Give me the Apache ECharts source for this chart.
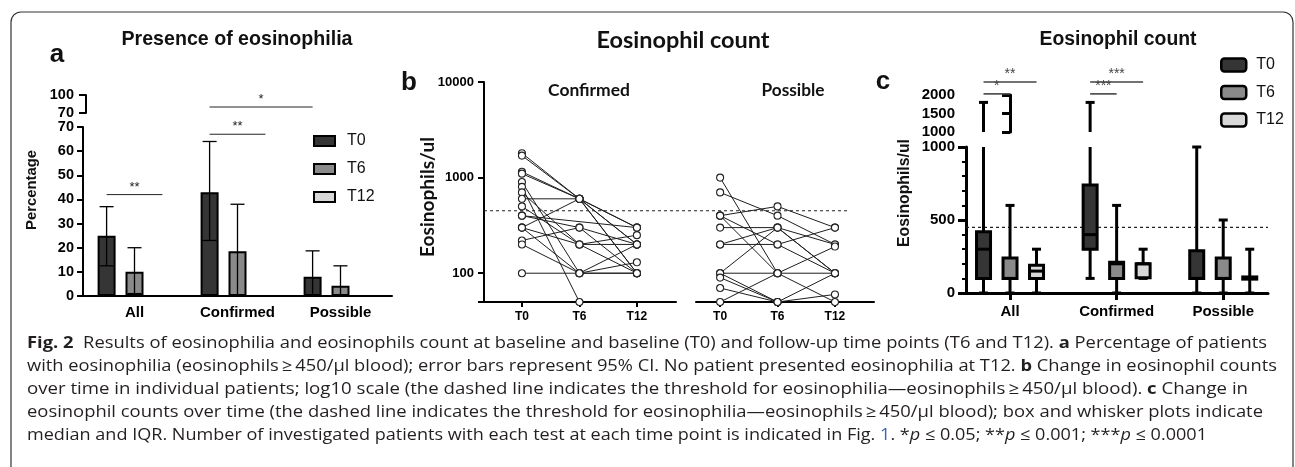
<!DOCTYPE html>
<html><head><meta charset="utf-8">
<script src="https://cdn.jsdelivr.net/npm/echarts@6/dist/echarts.min.js"></script>
<style>html,body{margin:0;padding:0;background:#fff}#c{width:1295px;height:467px}</style>
</head><body><div id="c"></div>
<script>
// ---------------- DATA ----------------
const timePoints = ['T0', 'T6', 'T12'];
const groups = ['All', 'Confirmed', 'Possible'];

// Panel a: % of patients with eosinophilia, 95% CI
const pctT0 = [25, 43, 8];
const pctT6 = [10, 18.5, 4.2];
const pctT12 = [0, 0, 0];
const ciLowT0 = [12.5, 23, 0];
const ciHighT0 = [37, 64, 18.7];
const ciLowT6 = [1, 0, 0];
const ciHighT6 = [20, 38, 12.5];
const aTicksUpper = [70, 100];
// significance brackets panel a: [group, time] from/to, level, stars
const sigAFrom = [[0, 0], [1, 0], [1, 0]];
const sigATo = [[0, 2], [1, 2], [2, 0]];
const sigALevel = [42, 67, 80];
const sigAStars = ['**', '**', '*'];

// Panel b: individual patients (eosinophils/ul) at T0, T6, T12 (null = missing)
const confT0 = [1800, 1700, 1150, 1100, 900, 800, 700, 600, 500, 400, 400, 300, 300, 300, 220, 200, 100];
const confT6 = [600, 600, 600, 600, 100, 50, 200, 600, 200, 300, null, 600, 200, 100, 300, 100, 100];
const confT12 = [300, 300, 200, 100, 100, null, 100, 200, 200, 100, 300, 100, 250, 130, 200, 200, 100];
const possT0 = [1000, 700, 400, 400, 400, 300, 200, 200, 100, 100, 100, 90, 70, 50];
const possT6 = [100, 400, 500, 200, 100, 300, 200, 300, 300, 100, 50, 50, 50, 100];
const possT12 = [50, 200, 300, 100, null, 100, 300, 100, 200, 100, 60, 100, null, 190];
const threshold = 450;

// Panel c: box plots [min, Q1, median, Q3, max] per group
const boxT0 = [[0, 100, 300, 420, 1800], [100, 300, 400, 740, 1800], [0, 100, 100, 290, 1000]];
const boxT6 = [[0, 100, 100, 240, 600], [0, 100, 200, 210, 600], [0, 100, 100, 240, 500]];
const boxT12 = [[0, 100, 150, 190, 300], [100, 105, 200, 200, 300], [0, 95, 100, 110, 300]];
// significance brackets panel c
const sigCFrom = [[0, 0], [0, 0], [1, 0], [1, 0]];
const sigCTo = [[0, 2], [0, 1], [1, 2], [1, 1]];
const sigCLevel = [2350, 2030, 2350, 2030];
const sigCStars = ['**', '*', '***', '***'];

// ---------------- CHART ----------------
const chart = echarts.init(document.getElementById('c'), null, {renderer: 'canvas', width: 1295, height: 467});
const AR = '"Liberation Sans", Arial, sans-serif';
const HUM = 'Lato, "Open Sans", sans-serif';
const FILL = ['#353535', '#8a8a8a', '#d8d8d8'];
const BAR_W = 18, BAR_GAP = 0.55;
const barOff = [-(BAR_W + BAR_W * BAR_GAP), 0, (BAR_W + BAR_W * BAR_GAP)];
const boxOff = [-26.5, 0, 26.5];
const plain = v => String(Math.round(v));

function lineEl(x1, y1, x2, y2, w, c) {
  return {type: 'line', shape: {x1, y1, x2, y2}, style: {stroke: c || '#000', lineWidth: w}};
}
const lbl = (size, extra) => Object.assign({color: '#000', fontWeight: 'bold', fontSize: size, fontFamily: AR}, extra || {});

// ----- axes -----
const xAxis = [
  {gridIndex: 0, type: 'category', data: groups,
   axisLine: {lineStyle: {color: '#000', width: 2}},
   axisTick: {alignWithLabel: true, length: 6, lineStyle: {color: '#000', width: 2}},
   axisLabel: lbl(15, {margin: 9})},
  {gridIndex: 1, type: 'category', data: groups, show: false},
  {gridIndex: 2, type: 'value', min: 0, max: 1, show: false},
  {gridIndex: 3, type: 'value', min: -0.66, max: 2.68, splitLine: {show: false},
   axisLine: {onZero: false, lineStyle: {color: '#000', width: 2}},
   axisTick: {customValues: [0, 1, 2], length: 5, lineStyle: {color: '#000', width: 2}},
   axisLabel: lbl(12, {customValues: [0, 1, 2], margin: 9, formatter: v => timePoints[Math.round(v)]})},
  {gridIndex: 4, type: 'value', min: -0.42, max: 2.68, splitLine: {show: false},
   axisLine: {onZero: false, lineStyle: {color: '#000', width: 2}},
   axisTick: {customValues: [0, 1, 2], length: 5, lineStyle: {color: '#000', width: 2}},
   axisLabel: lbl(12, {customValues: [0, 1, 2], margin: 9, formatter: v => timePoints[Math.round(v)]})},
  {gridIndex: 5, type: 'value', min: -0.413, max: 2.42, splitLine: {show: false},
   axisLine: {onZero: false, lineStyle: {color: '#000', width: 3}},
   axisTick: {customValues: [0, 1, 2], length: 7, lineStyle: {color: '#000', width: 3}},
   axisLabel: lbl(15, {customValues: [0, 1, 2], margin: 11, formatter: v => groups[Math.round(v)]})},
  {gridIndex: 6, type: 'value', min: -0.413, max: 2.42, show: false}
];
const yAxis = [
  {gridIndex: 0, type: 'value', min: 0, max: 70, interval: 10, splitLine: {show: false},
   axisLine: {show: true, lineStyle: {color: '#000', width: 2}},
   axisTick: {show: true, length: 6, lineStyle: {color: '#000', width: 2}},
   axisLabel: lbl(14.5, {margin: 9})},
  {gridIndex: 1, type: 'value', min: 70, max: 100, offset: -3, splitLine: {show: false},
   axisLine: {show: true, lineStyle: {color: '#000', width: 2}},
   axisTick: {show: true, customValues: aTicksUpper, length: 7, lineStyle: {color: '#000', width: 2}},
   axisLabel: lbl(14.5, {customValues: aTicksUpper, margin: 12})},
  {gridIndex: 2, type: 'log', logBase: 10, min: 50, max: 10000, show: false},
  {gridIndex: 3, type: 'log', logBase: 10, min: 50, max: 10000, splitLine: {show: false},
   axisLine: {show: true, onZero: false, lineStyle: {color: '#000', width: 2}},
   axisTick: {show: true, length: 6, lineStyle: {color: '#000', width: 2}},
   axisLabel: lbl(13, {margin: 10, formatter: v => v < 99 ? '' : plain(v)})},
  {gridIndex: 4, type: 'log', logBase: 10, min: 50, max: 10000, show: false},
  {gridIndex: 5, type: 'value', min: 0, max: 1000, interval: 500, splitLine: {show: false},
   axisLine: {show: true, onZero: false, lineStyle: {color: '#000', width: 3}},
   axisTick: {show: true, length: 8, lineStyle: {color: '#000', width: 3}},
   minorTick: {show: true, splitNumber: 5, length: 4, lineStyle: {color: '#000', width: 2}},
   axisLabel: lbl(15, {margin: 11, formatter: plain})},
  {gridIndex: 6, type: 'value', min: 1000, max: 2000, interval: 500, offset: 1, splitLine: {show: false},
   axisLine: {show: true, lineStyle: {color: '#000', width: 3}},
   axisTick: {show: true, length: 8, lineStyle: {color: '#000', width: 3}},
   axisLabel: lbl(15, {margin: 10, formatter: plain})}
];
const grid = [
  {left: 83, top: 127, width: 309, height: 169},
  {left: 83, top: 95, width: 309, height: 18},
  {left: 484, top: 82, width: 364, height: 220},
  {left: 484, top: 82, width: 192, height: 220},
  {left: 696, top: 82, width: 178, height: 220},
  {left: 966, top: 147, width: 302, height: 146},
  {left: 966, top: 95, width: 302, height: 37}
];

// ----- series -----
const series = [];
// panel a bars
[pctT0, pctT6, pctT12].forEach((d, t) => {
  series.push({type: 'bar', name: timePoints[t], xAxisIndex: 0, yAxisIndex: 0, data: d,
    barWidth: BAR_W, barGap: (BAR_GAP * 100) + '%',
    itemStyle: {color: FILL[t], borderColor: '#000', borderWidth: 2}, z: 3});
});
// panel a error bars
const errData = [];
for (let g = 0; g < groups.length; g++) {
  errData.push([g, 0, ciLowT0[g], ciHighT0[g]]);
  errData.push([g, 1, ciLowT6[g], ciHighT6[g]]);
}
series.push({type: 'custom', xAxisIndex: 0, yAxisIndex: 0, data: errData, z: 6, silent: true,
  renderItem: (p, api) => {
    const g = api.value(0), t = api.value(1);
    const cx = api.coord([g, 0])[0] + barOff[t];
    const yl = api.coord([g, api.value(2)])[1], yh = api.coord([g, api.value(3)])[1];
    return {type: 'group', children: [
      lineEl(cx, yl, cx, yh, 1.3), lineEl(cx - 7, yh, cx + 7, yh, 1.3), lineEl(cx - 7, yl, cx + 7, yl, 1.3)]};
  }});
// significance brackets
function sigSeries(idxList, fromArr, toArr, levels, stars, xi, yi, offs, col, lw, fs) {
  return {type: 'custom', xAxisIndex: xi, yAxisIndex: yi, silent: true, z: 6, clip: false,
    data: idxList.map(i => [fromArr[i][0], levels[i]]),
    renderItem: (p, api) => {
      const i = idxList[p.dataIndex];
      const x1 = api.coord([fromArr[i][0], levels[i]])[0] + offs[fromArr[i][1]];
      const x2 = api.coord([toArr[i][0], levels[i]])[0] + offs[toArr[i][1]];
      const y = api.coord([fromArr[i][0], levels[i]])[1];
      return {type: 'group', children: [
        lineEl(x1, y, x2, y, lw, col),
        {type: 'text', style: {x: (x1 + x2) / 2, y: y - 1, text: stars[i], align: 'center', verticalAlign: 'bottom',
          fill: col, font: fs + 'px ' + AR}}]};
    }};
}
const aIdx = sigALevel.map((v, i) => i);
series.push(sigSeries(aIdx.filter(i => sigALevel[i] <= 70), sigAFrom, sigATo, sigALevel, sigAStars, 0, 0, barOff, '#222', 1, 13));
series.push(sigSeries(aIdx.filter(i => sigALevel[i] > 70), sigAFrom, sigATo, sigALevel, sigAStars, 1, 1, barOff, '#222', 1, 13));

// panel b threshold line
series.push({type: 'line', xAxisIndex: 2, yAxisIndex: 2, data: [[0, threshold], [1, threshold]], symbol: 'none', silent: true,
  lineStyle: {color: '#222', width: 1, type: [3, 3]}, z: 1});
// panel b patients
function patientSeries(a0, a6, a12, xi, yi) {
  for (let k = 0; k < a0.length; k++) {
    const vals = [a0[k], a6[k], a12[k]];
    series.push({type: 'line', xAxisIndex: xi, yAxisIndex: yi, connectNulls: true, silent: true, clip: false,
      data: vals.map((v, t) => [t, v == null ? '-' : v]),
      symbol: 'circle', symbolSize: 7, showAllSymbol: true,
      lineStyle: {color: '#1e1e1e', width: 1},
      itemStyle: {color: '#fff', borderColor: '#222', borderWidth: 1.1}, z: 2});
  }
}
patientSeries(confT0, confT6, confT12, 3, 3);
patientSeries(possT0, possT6, possT12, 4, 4);

// panel c boxes
function boxRender(t, upper) {
  return (p, api) => {
    const g = api.value(0), mn = api.value(1), q1 = api.value(2), md = api.value(3), q3 = api.value(4), mx = api.value(5);
    const cx = api.coord([g, 0])[0] + boxOff[t];
    const y = v => api.coord([g, v])[1];
    const ch = [];
    const capW = 4.5, bw = 14;
    if (!upper) {
      const top = Math.min(mx, 1000);
      ch.push(lineEl(cx, y(q3), cx, y(top), 3));
      if (mx <= 1000) ch.push(lineEl(cx - capW, y(mx), cx + capW, y(mx), 3));
      ch.push(lineEl(cx, y(q1), cx, y(mn), 3));
      ch.push(lineEl(cx - capW, y(mn), cx + capW, y(mn), 3));
      ch.push({type: 'rect', shape: {x: cx - bw / 2, y: y(q3), width: bw, height: y(q1) - y(q3)},
        style: {fill: FILL[t], stroke: '#000', lineWidth: 3}});
      ch.push(lineEl(cx - bw / 2, y(md), cx + bw / 2, y(md), 3));
    } else if (mx > 1000) {
      ch.push(lineEl(cx, y(1000), cx, y(mx), 3));
      ch.push(lineEl(cx - capW, y(mx), cx + capW, y(mx), 3));
    }
    return {type: 'group', children: ch};
  };
}
[boxT0, boxT6, boxT12].forEach((d, t) => {
  const data = d.map((r, g) => [g].concat(r));
  series.push({type: 'custom', name: timePoints[t], xAxisIndex: 5, yAxisIndex: 5, data, renderItem: boxRender(t, false),
    encode: {x: 0, y: [1, 2, 3, 4, 5]}, itemStyle: {color: FILL[t]}, z: 4, silent: true});
  series.push({type: 'custom', name: timePoints[t], xAxisIndex: 6, yAxisIndex: 6, data, renderItem: boxRender(t, true),
    encode: {x: 0, y: [1, 2, 3, 4, 5]}, itemStyle: {color: FILL[t]}, z: 4, silent: true});
});
// panel c threshold
series.push({type: 'line', xAxisIndex: 5, yAxisIndex: 5, data: [[-0.413, threshold], [2.42, threshold]], symbol: 'none', silent: true,
  lineStyle: {color: '#222', width: 1.3, type: [3, 3]}, z: 3});
// panel c significance (upper grid coordinates)
series.push(sigSeries(sigCLevel.map((v, i) => i), sigCFrom, sigCTo, sigCLevel, sigCStars, 6, 6, boxOff, '#444', 1.6, 14));

// ----- legends -----
const legendData = (bw) => timePoints.map((n, t) => ({name: n, itemStyle: {color: FILL[t], borderColor: '#000', borderWidth: bw}}));
const legend = [
  {orient: 'vertical', left: 313, top: 133, padding: 0, itemWidth: 21, itemHeight: 10, itemGap: 12, icon: 'rect',
   selectedMode: false, data: legendData(2),
   textStyle: {fontSize: 16, fontFamily: '"Liberation Sans Narrow", ' + AR, color: '#111', padding: [0, 0, 0, 7]}},
  {orient: 'vertical', left: 1220, top: 57, padding: 0, itemWidth: 25, itemHeight: 13, itemGap: 11.5, icon: 'roundRect',
   selectedMode: false, data: legendData(2.5),
   textStyle: {fontSize: 16, fontFamily: '"Liberation Sans Narrow", ' + AR, color: '#111', padding: [0, 0, 0, 5]}}
];

// ----- texts (font size fitted to the original text width) -----
const mctx = document.createElement('canvas').getContext('2d');
function fitTxt(x, y, text, weight, family, width, rot) {
  mctx.font = weight + ' 100px ' + family;
  const size = 100 * width / mctx.measureText(text).width;
  return {type: 'text', x, y, z: 50, silent: true, rotation: rot || 0,
    style: {x: 0, y: 0, text, font: weight + ' ' + size.toFixed(2) + 'px ' + family, fill: '#111', align: 'center', verticalAlign: 'middle'}};
}
const graphic = [
  {type: 'rect', z: 0, silent: true, shape: {x: 11, y: 12, width: 1282, height: 520, r: 10},
   style: {fill: 'none', stroke: '#333', lineWidth: 1.2}},
  fitTxt(237, 40, 'Presence of eosinophilia', 'bold', AR, 231),
  {type: 'text', x: 57, y: 55, z: 50, silent: true, style: {x: 0, y: 0, text: 'a', font: 'bold 26px ' + AR, fill: '#111', align: 'center', verticalAlign: 'middle'}},
  fitTxt(32, 190, 'Percentage', 'bold', AR, 80, Math.PI / 2),
  fitTxt(683, 40, 'Eosinophil count', 'bold', HUM, 173),
  {type: 'text', x: 409, y: 83, z: 50, silent: true, style: {x: 0, y: 0, text: 'b', font: 'bold 26px ' + AR, fill: '#111', align: 'center', verticalAlign: 'middle'}},
  fitTxt(589, 90, 'Confirmed', 'bold', HUM, 82),
  fitTxt(793, 90, 'Possible', 'bold', HUM, 63),
  fitTxt(428, 197, 'Eosinophils/ul', 'bold', HUM, 120, Math.PI / 2),
  fitTxt(1118, 40, 'Eosinophil count', 'bold', AR, 157),
  {type: 'text', x: 883, y: 82, z: 50, silent: true, style: {x: 0, y: 0, text: 'c', font: 'bold 26px ' + AR, fill: '#111', align: 'center', verticalAlign: 'middle'}},
  fitTxt(905, 193, 'Eosinophils/ul', 'bold', AR, 108, Math.PI / 2)
];

// caption (stretched per line to the original line widths)
const CAP_FONT = '"Open Sans", "Noto Sans", sans-serif';
const CAP_SIZE = 16.5;
const GE = 'eosinophils\u2009\u2265\u2009450/\u03bcl blood';
const capLines = [
  [['Fig. 2', 'b'], ['  Results of eosinophilia and eosinophils count at baseline and baseline (T0) and follow-up time points (T6 and T12). '], ['a', 'b'], [' Percentage of patients']],
  [['with eosinophilia (' + GE + '); error bars represent 95% CI. No patient presented eosinophilia at T12. '], ['b', 'b'], [' Change in eosinophil counts']],
  [['over time in individual patients; log10 scale (the dashed line indicates the threshold for eosinophilia\u2014' + GE + '). '], ['c', 'b'], [' Change in']],
  [['eosinophil counts over time (the dashed line indicates the threshold for eosinophilia\u2014' + GE + '); box and whisker plots indicate']],
  [['median and IQR. Number of investigated patients with each test at each time point is indicated in Fig. '], ['1', 'c'], ['. *'], ['p', 'i'], [' \u2264 0.05; **'], ['p', 'i'], [' \u2264 0.001; ***'], ['p', 'i'], [' \u2264 0.0001']]
];
const capY = [343, 366, 389, 412, 435];
const capEnd = [1267, 1277, 1248, 1263, 1207];
const capX = 27;
capLines.forEach((segs, li) => {
  let w = 0, text = '';
  segs.forEach(([s, st]) => {
    mctx.font = (st === 'i' ? 'italic ' : '') + (st === 'b' ? 'bold ' : '') + CAP_SIZE + 'px ' + CAP_FONT;
    w += mctx.measureText(s).width;
    text += st ? '{' + st + '|' + s + '}' : s;
  });
  const base = {fontSize: CAP_SIZE, fontFamily: CAP_FONT, fill: '#231f20'};
  graphic.push({type: 'text', x: capX, y: capY[li], scaleX: (capEnd[li] - capX) / w, z: 50, silent: true,
    style: Object.assign({x: 0, y: 0, text, align: 'left', verticalAlign: 'middle',
      rich: {b: Object.assign({}, base, {fontWeight: 'bold'}), i: Object.assign({}, base, {fontStyle: 'italic'}),
             c: Object.assign({}, base, {fill: '#3b64b4'})}}, base)});
});

chart.setOption({animation: false, backgroundColor: '#fff', grid, xAxis, yAxis, series, legend, graphic});
</script></body></html>
